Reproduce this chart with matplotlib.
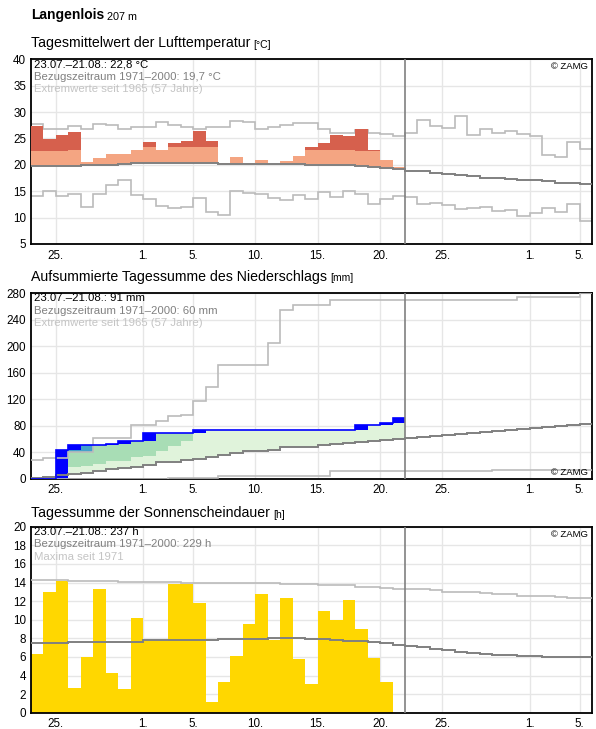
import matplotlib
matplotlib.use('Agg')
import matplotlib.pyplot as plt
import numpy as np

plt.rcParams['font.family'] = ['Liberation Sans', 'DejaVu Sans']

# x = days since 1 August (0 = 1.8.); observed 23.07.-21.08. = -9..20, climate until 5.9.
days_obs = np.arange(-9, 21)
days_all = np.arange(-9, 36)
tick_pos = [-7, 0, 4, 9, 14, 19, 24, 31, 35]
tick_lab = ['25.', '1.', '5.', '10.', '15.', '20.', '25.', '1.', '5.']

# temperature (daily mean, degC)
temp = [27.3, 24.9, 25.6, 26.2, 20.5, 21.3, 22.0, 22.0, 22.8, 24.3,
        22.8, 24.1, 24.6, 26.4, 24.5, 20.3, 21.5, 20.3, 20.9, 20.1,
        20.7, 21.6, 23.3, 24.1, 25.6, 25.4, 26.8, 22.9, 21.0, 19.6]
temp_norm = [19.7, 19.7, 19.7, 19.8, 20.0, 20.0, 20.0, 20.1, 20.3, 20.4,
             20.4, 20.4, 20.4, 20.3, 20.3, 20.1, 20.1, 20.1, 20.1, 20.1,
             20.1, 20.1, 19.9, 19.9, 19.9, 19.9, 19.7, 19.6, 19.4, 19.2,
             18.9, 18.75, 18.5, 18.2, 18.0, 17.8, 17.6, 17.45, 17.3, 17.2,
             17.05, 16.85, 16.65, 16.55, 16.4]
temp_max = [27.75, 26.8, 26.7, 27.3, 26.8, 27.8, 27.5, 26.8, 27.1, 27.1,
            28.2, 27.5, 27.1, 26.7, 27.1, 27.1, 28.4, 28.1, 26.8, 27.1,
            27.6, 27.9, 27.9, 26.7, 26.1, 26.1, 26.6, 26.1, 25.9, 25.4,
            25.95, 28.5, 27.3, 26.95, 29.2, 25.6, 26.7, 25.95, 26.45, 25.8,
            25.45, 21.9, 21.45, 24.25, 23.0]
temp_min = [14.15, 15.05, 14.15, 14.5, 11.95, 14.5, 16.2, 17.2, 14.35, 13.5,
            12.2, 11.75, 11.95, 13.7, 11.0, 10.45, 15.0, 14.7, 14.4, 13.8,
            13.3, 14.3, 13.6, 14.8, 13.9, 15.1, 14.5, 12.6, 13.5, 14.1,
            13.9, 12.5, 12.7, 12.35, 11.65, 11.9, 12.0, 11.25, 11.45, 10.25,
            10.8, 11.75, 11.0, 12.5, 9.4]

# precipitation, accumulated (mm)
precip_cum = [0, 0, 43, 50.5, 50.5, 51.5, 52.5, 56.5, 56.5, 68.5,
              68.5, 68.5, 68.5, 73, 73, 73, 73, 73, 73, 73,
              73, 73, 73, 73, 73, 73, 80.5, 81, 83.5, 91]
precip_norm = [1, 3, 5.5, 7.5, 9, 11.5, 14, 15.5, 18, 20.5,
               25, 25.5, 27.5, 29.5, 33, 36.5, 39.5, 42, 42.5, 44,
               47.5, 48.5, 48.5, 51.5, 53, 54.5, 56, 57.5, 58.5, 60,
               61.5, 63, 64.5, 66, 67.5, 69, 70.5, 71.5, 73, 74.5,
               76, 77.5, 79, 80.5, 82]
precip_upper = [np.nan, np.nan, np.nan, 17.5, 19, 22.5, 26.5, 26.5, 32.5, 34,
                41.5, 49, 56.5, np.nan, np.nan, np.nan, np.nan, np.nan, np.nan, np.nan,
                np.nan, np.nan, np.nan, np.nan, np.nan, np.nan, np.nan, np.nan, np.nan, np.nan]
precip_max = [27.5, 31.5, 31.5, 40, 40, 61.5, 61.5, 61.5, 81.5, 81.5,
              87.5, 94.5, 96.5, 117, 139, 171.5, 171.5, 171.5, 171.5, 205,
              254.5, 262, 262, 262, 270, 270, 270, 270, 270, 270,
              270, 270, 270, 270, 270, 270, 270, 270, 270, 275,
              275, 275, 275, 275, 280]
precip_min = [0, 0, 0, 0, 0, 0, 0, 0, 0, 0,
              0, 0.5, 0.5, 0.5, 0.5, 4, 4, 4, 4, 4,
              4, 4, 4, 4, 12, 12, 12, 12, 12, 12,
              12, 12, 12, 12, 12, 12, 12, 13, 13, 13,
              13, 13, 13, 13, 13]

# sunshine duration (h)
sun = [6.3, 13.0, 14.2, 2.65, 6.0, 13.25, 4.25, 2.55, 10.15, 7.75,
       7.75, 13.85, 13.85, 11.75, 1.15, 3.3, 6.15, 9.5, 12.8, 7.8,
       12.3, 5.75, 3.1, 10.9, 10.0, 12.1, 9.05, 5.85, 3.3, 0.0]
sun_norm = [7.48, 7.48, 7.48, 7.63, 7.63, 7.63, 7.63, 7.63, 7.63, 7.77,
            7.77, 7.77, 7.77, 7.77, 7.77, 7.88, 7.88, 7.88, 7.88, 7.98,
            7.98, 7.98, 7.88, 7.88, 7.77, 7.66, 7.66, 7.55, 7.45, 7.3,
            7.16, 7.05, 6.8, 6.7, 6.48, 6.37, 6.27, 6.16, 6.16, 6.05,
            6.05, 5.95, 5.95, 5.95, 5.95]
sun_max = [14.3, 14.3, 14.3, 14.2, 14.2, 14.2, 14.2, 14.1, 14.1, 14.1,
           14.1, 14.1, 14.0, 14.0, 14.0, 14.0, 14.0, 13.9, 13.9, 13.9,
           13.8, 13.8, 13.8, 13.7, 13.7, 13.7, 13.55, 13.55, 13.46, 13.35,
           13.25, 13.25, 13.14, 13.03, 12.93, 12.93, 12.82, 12.71, 12.71, 12.6,
           12.5, 12.5, 12.39, 12.28, 12.28]

edges_obs = np.append(days_obs, days_obs[-1] + 1)
edges_all = np.append(days_all, days_all[-1] + 1)

W, H = 596, 729
fig = plt.figure(figsize=(W / 100, H / 100), dpi=100)
fig.patch.set_facecolor('white')

LIGHT = '#bbbbbb'
DARK = '#808080'


def make_axes(top_px, bottom_px):
    ax = fig.add_axes([31 / W, 1 - bottom_px / H, 561 / W, (bottom_px - top_px) / H])
    ax.set_xlim(-9, 36)
    ax.set_xticks(tick_pos)
    ax.set_xticklabels(tick_lab)
    ax.grid(True, color='#e6e6e6', lw=1)
    ax.set_axisbelow(True)
    ax.tick_params(length=0, labelsize=8.4, pad=3.5)
    ax.tick_params(axis='x', pad=4)
    for s in ax.spines.values():
        s.set_color('black')
        s.set_linewidth(1.3)
    ax.axvline(21, color=DARK, lw=1.2, zorder=6)
    return ax


def info(ax, lines):
    cols = ['black', DARK, '#c4c4c4']
    for i, (txt, c) in enumerate(zip(lines, cols)):
        ax.annotate(txt, xy=(0, 1), xycoords='axes fraction', xytext=(3, -8 - 12.5 * i),
                    textcoords='offset pixels', fontsize=8.2, color=c, va='baseline', zorder=10)


def zamg(ax, top=True):
    if top:
        ax.annotate('© ZAMG', xy=(1, 1), xycoords='axes fraction', xytext=(-4, -10),
                    textcoords='offset pixels', fontsize=6.8, ha='right', va='baseline', zorder=10)
    else:
        ax.annotate('© ZAMG', xy=(1, 0), xycoords='axes fraction', xytext=(-4, 4),
                    textcoords='offset pixels', fontsize=6.8, ha='right', va='baseline', zorder=10)


def title(y_px, main, unit, main_size=10.2, unit_size=7.5, bold=False):
    t = fig.text(31 / W, 1 - y_px / H, main, fontsize=main_size, va='baseline',
                 fontweight='bold' if bold else 'normal')
    fig.canvas.draw()
    bb = t.get_window_extent()
    fig.text((bb.x1 + 3) / W, 1 - y_px / H, unit, fontsize=unit_size, va='baseline')


title(19.5, 'Langenlois', '207 m', main_size=10, unit_size=7.8, bold=True)
title(47.5, 'Tagesmittelwert der Lufttemperatur', '[°C]')
title(280.5, 'Aufsummierte Tagessumme des Niederschlags', '[mm]')
title(517.5, 'Tagessumme der Sonnenscheindauer', '[h]')

# ---- temperature ----
ax1 = make_axes(59.3, 244)
ax1.set_ylim(5, 40)
ax1.set_yticks(range(5, 41, 5))
T = np.array(temp)
N = np.array(temp_norm[:30])
light_top = np.clip(T, N, N + 3)
dark_top = np.maximum(T, N + 3)
ax1.stairs(temp_max, edges_all, baseline=None, color=LIGHT, lw=1.2, zorder=2)
ax1.stairs(temp_min, edges_all, baseline=None, color=LIGHT, lw=1.2, zorder=2)
ax1.stairs(light_top, edges_obs, baseline=N, fill=True, color='#f4a582', lw=0, zorder=3)
ax1.stairs(dark_top, edges_obs, baseline=N + 3, fill=True, color='#d6604d', lw=0, zorder=3)
ax1.stairs(temp_norm, edges_all, baseline=None, color=DARK, lw=1.4, zorder=4)
info(ax1, ['23.07.–21.08.: 22,8 °C', 'Bezugszeitraum 1971–2000: 19,7 °C',
           'Extremwerte seit 1965 (57 Jahre)'])
zamg(ax1)

# ---- precipitation ----
ax2 = make_axes(293.3, 478.7)
ax2.set_ylim(0, 280)
ax2.set_yticks(range(0, 281, 40))
cum = np.array(precip_cum, dtype=float)
pn = np.array(precip_norm[:30], dtype=float)
pmax = np.array(precip_max[:30], dtype=float)
up = np.array(precip_upper, dtype=float)
prev = np.concatenate([[0], cum[:-1]])
ax2.stairs(np.maximum(cum, pn), edges_obs, baseline=pn, fill=True, color='#e0f3db', lw=0, zorder=2)
up_bot = np.where(np.isnan(up), cum, np.minimum(up, cum))
ax2.stairs(cum, edges_obs, baseline=up_bot, fill=True, color='#a8ddb5', lw=0, zorder=2)
ax2.stairs(cum, edges_obs, baseline=np.minimum(pmax, cum), fill=True, color='#43a2ca', lw=0, zorder=2)
ax2.stairs(pn, edges_obs, baseline=np.minimum(cum, pn), fill=True, color='#fee391', lw=0, zorder=2)
ax2.stairs(cum, edges_obs, baseline=prev, fill=True, color='#0000ff', lw=0, zorder=3)
ax2.stairs(precip_max, edges_all, baseline=None, color=LIGHT, lw=1.2, zorder=4)
ax2.stairs(precip_min, edges_all, baseline=None, color=LIGHT, lw=1.2, zorder=4)
ax2.stairs(precip_norm, edges_all, baseline=None, color=DARK, lw=1.4, zorder=4)
ax2.stairs(cum, edges_obs, baseline=None, color='#0000ff', lw=1.2, zorder=5)
info(ax2, ['23.07.–21.08.: 91 mm', 'Bezugszeitraum 1971–2000: 60 mm',
           'Extremwerte seit 1965 (57 Jahre)'])
zamg(ax2, top=False)

# ---- sunshine ----
ax3 = make_axes(526.7, 712.7)
ax3.set_ylim(0, 20)
ax3.set_yticks(range(0, 21, 2))
ax3.stairs(sun, edges_obs, baseline=0, fill=True, color='#ffd700', lw=0, zorder=2)
ax3.stairs(sun_max, edges_all, baseline=None, color=LIGHT, lw=1.2, zorder=4)
ax3.stairs(sun_norm, edges_all, baseline=None, color=DARK, lw=1.4, zorder=4)
info(ax3, ['23.07.–21.08.: 237 h', 'Bezugszeitraum 1971–2000: 229 h', 'Maxima seit 1971'])
zamg(ax3)

fig.savefig('out.png', dpi=100, facecolor='white')
